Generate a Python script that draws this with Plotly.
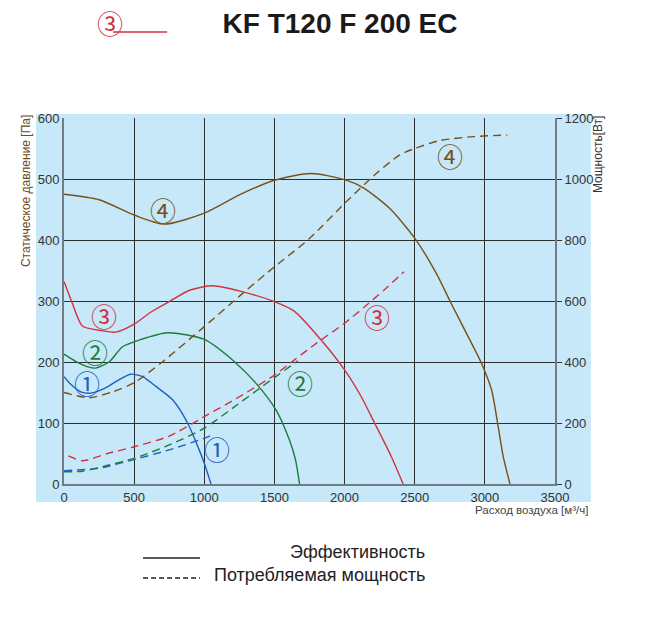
import plotly.graph_objects as go

# fan curves: static pressure [Pa] vs airflow [m3/h]
q1 = [0, 50, 120, 190, 300, 400, 476, 560, 655, 774, 881, 960, 1000, 1048]
p1 = [176, 163, 151, 149, 158, 172, 180, 176, 160, 138, 100, 58, 34, 0]

q2 = [0, 107, 170, 226, 321, 417, 536, 738, 1000, 1203, 1369, 1512, 1607, 1650, 1679]
p2 = [213, 198, 192, 190, 200, 225, 236, 248, 237, 203, 165, 121, 72, 40, 0]

q3 = [0, 60, 131, 250, 369, 500, 620, 750, 900, 1060, 1274, 1500, 1643, 1833, 2000, 2119, 2214, 2333, 2417]
p3 = [332, 296, 259, 252, 249, 262, 282, 299, 318, 325, 315, 299, 283, 236, 187, 143, 100, 45, 0]

q4 = [0, 250, 500, 714, 1000, 1250, 1500, 1762, 2000, 2131, 2321, 2500, 2655, 2762, 2869, 2976, 3048, 3095, 3131, 3179]
p4 = [475, 466, 441, 426, 444, 474, 498, 509, 499, 486, 452, 403, 345, 295, 247, 198, 154, 94, 45, 0]

# power consumption [W] vs airflow
wq1 = [0, 250, 500, 750, 1000, 1050]
w1 = [44, 52, 80, 112, 150, 160]

wq2 = [0, 131, 300, 500, 750, 1000, 1200, 1369, 1500, 1667]
w2 = [40, 42, 60, 84, 128, 183, 248, 305, 349, 404]

wq3 = [31, 131, 310, 500, 750, 1000, 1250, 1500, 1643, 1798, 2000, 2143, 2286, 2424]
w3 = [92, 76, 100, 122, 157, 221, 286, 357, 407, 461, 527, 581, 638, 696]

wq4 = [0, 179, 345, 500, 703, 1000, 1274, 1500, 1750, 2000, 2226, 2393, 2500, 2679, 2917, 3160]
w4 = [300, 283, 302, 332, 401, 516, 625, 712, 805, 920, 1018, 1079, 1100, 1126, 1139, 1144]

colors = ["#1f5fc0", "#1a7d3c", "#d2323f", "#7a5016"]
marks = ["①", "②", "③", "④"]

# label positions (x, y on pressure axis)
solid_lbl = [(167, 167), (221, 217), (286, 277), (707, 450)]
dash_lbl = [(1088, 58), (1679, 166), (2234, 274), (2750, 539)]

BLUE = "#c6e8f8"
GRID = "#2e2e2e"
AXIS = "#717d85"

fig = go.Figure()

for q, p, c in zip([q1, q2, q3, q4], [p1, p2, p3, p4], colors):
    fig.add_trace(go.Scatter(x=q, y=p, mode="lines", line=dict(color=c, width=1.4, shape="spline", smoothing=0.7),
                             showlegend=False, hoverinfo="skip"))

for q, w, c in zip([wq1, wq2, wq3, wq4], [w1, w2, w3, w4], colors):
    fig.add_trace(go.Scatter(x=q, y=w, yaxis="y2", mode="lines",
                             line=dict(color=c, width=1.4, dash="8px,5px", shape="spline", smoothing=0.7),
                             showlegend=False, hoverinfo="skip"))

for (x, y), m, c in zip(solid_lbl + dash_lbl, marks + marks, colors + colors):
    fig.add_annotation(x=x, y=y, text=m, showarrow=False,
                       font=dict(family="Noto Sans CJK JP", size=26, color=c))

# blue backdrop behind axes and tick labels
fig.add_shape(type="rect", xref="paper", yref="paper", x0=-0.057, x1=1.073, y0=-0.049, y1=1.011,
              fillcolor=BLUE, line_width=0, layer="below")

# header: red line sample and title
fig.add_annotation(xref="paper", yref="paper", x=0.094, y=1.262, text="③", showarrow=False,
                   xanchor="center", yanchor="middle",
                   font=dict(family="Noto Sans CJK JP", size=26, color="#d2323f"))
fig.add_shape(type="line", xref="paper", yref="paper", x0=0.1, x1=0.21, y0=1.235, y1=1.235,
              line=dict(color="#d2323f", width=1.3))

# axis titles
fig.add_annotation(xref="paper", yref="paper", x=-0.077, y=1.014, text="Статическое давление [Па]",
                   textangle=-90, showarrow=False, xanchor="center", yanchor="top",
                   font=dict(family="Liberation Sans", size=12, color="#6b4a1c"))
fig.add_annotation(xref="paper", yref="paper", x=1.088, y=1.014, text="Мощность[Вт]",
                   textangle=-90, showarrow=False, xanchor="center", yanchor="top",
                   font=dict(family="Liberation Sans", size=12, color="#333333"))
fig.add_annotation(xref="paper", yref="paper", x=1.071, y=-0.07, text="Расход воздуха [м³/ч]",
                   showarrow=False, xanchor="right", yanchor="middle",
                   font=dict(family="Liberation Sans", size=11.5, color="#444444"))

# legend at the bottom
fig.add_shape(type="line", xref="paper", yref="paper", x0=0.161, x1=0.277, y0=-0.202, y1=-0.202,
              line=dict(color="#222222", width=1.5))
fig.add_shape(type="line", xref="paper", yref="paper", x0=0.161, x1=0.277, y0=-0.257, y1=-0.257,
              line=dict(color="#222222", width=1.5, dash="5px,3px"))
fig.add_annotation(xref="paper", yref="paper", x=0.739, y=-0.186, text="Эффективность",
                   showarrow=False, xanchor="right", yanchor="middle",
                   font=dict(family="Liberation Sans", size=18, color="#222222"))
fig.add_annotation(xref="paper", yref="paper", x=0.739, y=-0.249, text="Потребляемая мощность",
                   showarrow=False, xanchor="right", yanchor="middle",
                   font=dict(family="Liberation Sans", size=18, color="#222222"))

# page body has an 8px margin, so the figure is a bit smaller and shifted
fig.update_layout(
    width=641, height=624,
    margin=dict(l=56, r=94, t=110, b=148),
    paper_bgcolor="white", plot_bgcolor=BLUE,
    title=dict(text="<b>KF T120 F 200 EC</b>", xref="container", yref="container",
               x=0.518, y=0.976, xanchor="center", yanchor="middle",
               font=dict(family="Liberation Sans", size=28, color="#1a1a1a")),
    xaxis=dict(range=[0, 3500], dtick=500, showgrid=True, gridcolor=GRID, gridwidth=1.3,
               showline=True, linecolor=AXIS, linewidth=2, zeroline=False, ticks="",
               tickfont=dict(family="Liberation Sans", size=13, color="#333333")),
    yaxis=dict(range=[0, 600], dtick=100, showgrid=True, gridcolor=GRID, gridwidth=1.3,
               showline=True, linecolor=AXIS, linewidth=2, zeroline=False, ticks="",
               tickfont=dict(family="Liberation Sans", size=13, color="#333333")),
    yaxis2=dict(range=[0, 1200], dtick=200, overlaying="y", side="right", showgrid=False,
                showline=True, linecolor=AXIS, linewidth=2, zeroline=False,
                ticks="outside", ticklen=5, tickcolor="#333333",
                tickfont=dict(family="Liberation Sans", size=13, color="#333333")),
    showlegend=False,
)

fig.write_html("out.html")
